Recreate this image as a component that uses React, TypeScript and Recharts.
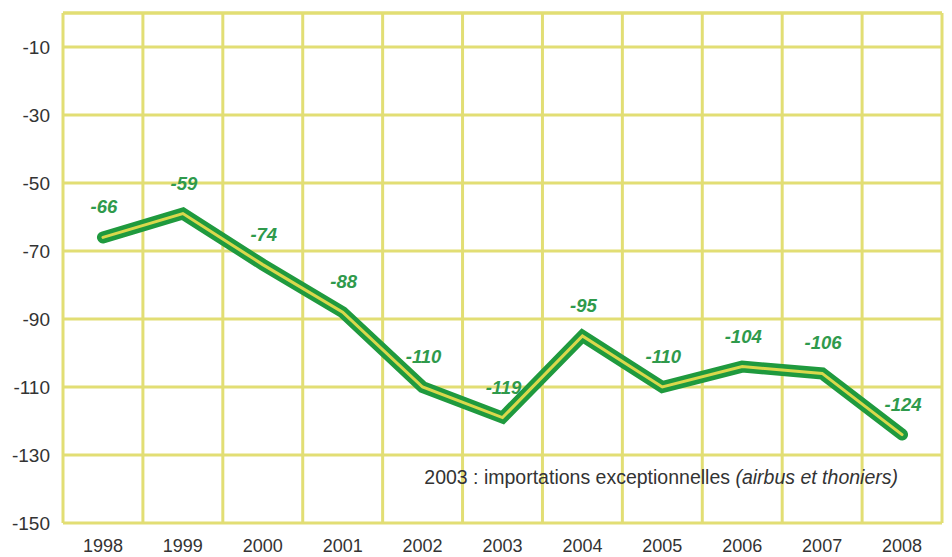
import React from "react";
import {
  LineChart,
  Line,
  XAxis,
  YAxis,
  CartesianGrid,
  ReferenceLine,
  LabelList,
} from "recharts";

const years = ["1998", "1999", "2000", "2001", "2002", "2003", "2004", "2005", "2006", "2007", "2008"];
const balance = [-66, -59, -74, -88, -110, -119, -95, -110, -104, -106, -124];
const yTicks = [-150, -130, -110, -90, -70, -50, -30, -10];
const note = "2003 : importations exceptionnelles ";
const noteItalic = "(airbus et thoniers)";

const GRID = "#e2de74";
const GREEN = "#1f9a3e";
const INNER = "#d9d84c";
const LABEL = "#2f9a4c";
const FONT = "'Liberation Sans', Arial, Helvetica, sans-serif";

// each year sits in the middle of its column
const data = years.map((y, i) => ({ pos: i + 0.5, year: y, value: balance[i] }));
const xTicks = data.map((d) => d.pos);
const bounds = years.map((_, i) => i).concat([years.length]);

function ValueLabel(props: any) {
  const { x, y, value } = props;
  return (
    <text
      x={x + 1}
      y={y - 24}
      textAnchor="middle"
      fill={LABEL}
      fontFamily={FONT}
      fontSize={18.5}
      fontStyle="italic"
      fontWeight="bold"
    >
      {value}
    </text>
  );
}

export default function App() {
  return (
    <div style={{ position: "absolute", left: 0, top: 0, width: 952, height: 557, background: "#fff" }}>
      <LineChart
        width={952}
        height={557}
        data={data}
        margin={{ top: 13, right: 10, bottom: 0, left: 0 }}
      >
        <CartesianGrid vertical={false} stroke={GRID} strokeWidth={3} />
        <XAxis
          type="number"
          dataKey="pos"
          domain={[0, years.length]}
          ticks={xTicks}
          tickFormatter={(v: number) => years[Math.floor(v)]}
          axisLine={false}
          tickLine={false}
          tickSize={0}
          tickMargin={16}
          height={34}
          tick={{ fill: "#333", fontSize: 18, fontFamily: FONT }}
          interval={0}
        />
        <YAxis
          domain={[-150, 0]}
          ticks={yTicks}
          axisLine={false}
          tickLine={false}
          tickSize={0}
          tickMargin={13}
          width={63}
          tick={{ fill: "#333", fontSize: 19, fontFamily: FONT }}
          interval={0}
        />
        <ReferenceLine y={0} stroke={GRID} strokeWidth={3} />
        {bounds.map((b) => (
          <ReferenceLine key={b} x={b} stroke={GRID} strokeWidth={3} />
        ))}
        <Line
          dataKey="value"
          stroke={GREEN}
          strokeWidth={12}
          strokeLinecap="round"
          strokeLinejoin="miter"
          dot={false}
          activeDot={false}
          isAnimationActive={false}
        />
        <Line
          dataKey="value"
          stroke={INNER}
          strokeWidth={3}
          strokeLinecap="round"
          dot={false}
          activeDot={false}
          isAnimationActive={false}
        >
          <LabelList dataKey="value" content={<ValueLabel />} />
        </Line>
      </LineChart>
      <div
        style={{
          position: "absolute",
          left: 0,
          top: 468,
          width: 898,
          textAlign: "right",
          fontFamily: FONT,
          fontSize: 19.5,
          lineHeight: "19.5px",
          color: "#333",
          whiteSpace: "nowrap",
        }}
      >
        {note}
        <i>{noteItalic}</i>
      </div>
    </div>
  );
}
